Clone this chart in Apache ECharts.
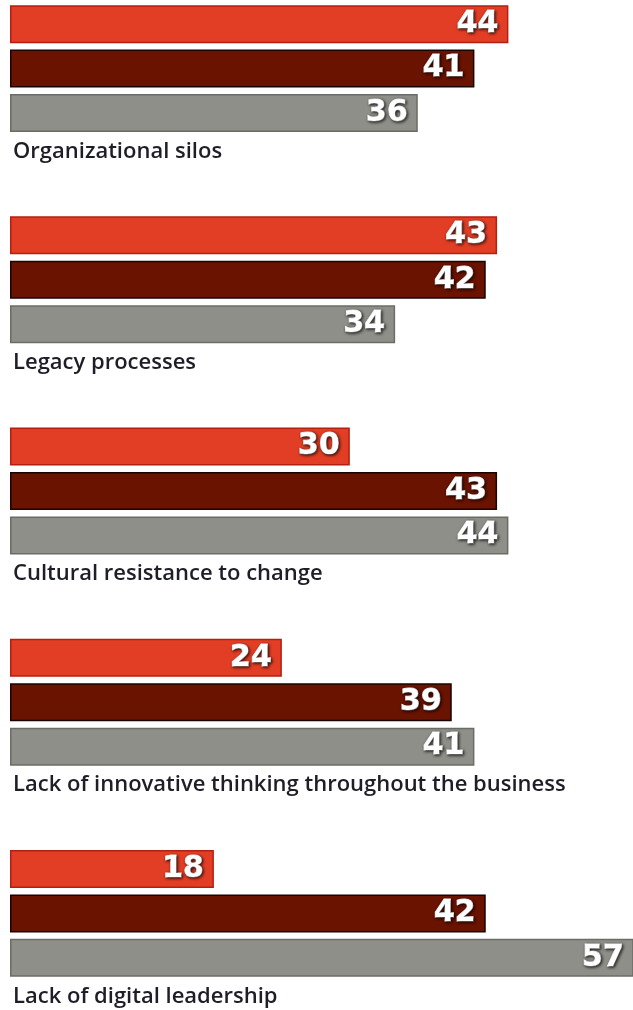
<!DOCTYPE html>
<html><head><meta charset="utf-8">
<script src="https://cdn.jsdelivr.net/npm/echarts@6/dist/echarts.min.js"></script>
<style>html,body{margin:0;padding:0;background:#fff}#c{width:633px;height:1010px}</style>
</head><body><div id="c"></div>
<script>
const categories = ["Organizational silos", "Legacy processes", "Cultural resistance to change", "Lack of innovative thinking throughout the business", "Lack of digital leadership"];
const seriesA = [44, 43, 30, 24, 18];
const seriesB = [41, 42, 43, 39, 42];
const seriesC = [36, 34, 44, 41, 57];

const chart = echarts.init(document.getElementById('c'), null, {renderer: 'canvas'});
const valueLabel = {
  show: true,
  position: 'insideRight',
  distance: 10,
  color: '#ffffff',
  fontFamily: 'DejaVu Sans',
  fontWeight: 'bold',
  fontSize: 30,
  textBorderColor: '#ffffff',
  textBorderWidth: 1,
  textShadowColor: 'rgba(0,0,0,0.8)',
  textShadowBlur: 3,
  textShadowOffsetX: 1,
  textShadowOffsetY: 1
};
function mk(name, data, fill, border) {
  return {
    name: name, type: 'bar', data: data,
    barWidth: 38, barGap: '17%',
    itemStyle: {color: fill, borderColor: border, borderWidth: 1.5},
    label: valueLabel,
    emphasis: {disabled: true},
    animation: false
  };
}
chart.setOption({
  animation: false,
  grid: {left: 10, right: 0, top: -37, bottom: -9, containLabel: false, outerBoundsMode: 'none'},
  xAxis: {type: 'value', min: 0, max: 55.0, show: false},
  yAxis: {
    type: 'category', data: categories, inverse: true,
    axisLine: {show: false}, axisTick: {show: false}, splitLine: {show: false},
    axisLabel: {
      inside: true, margin: 3, interval: 0,
      verticalAlign: 'top', padding: [72, 0, 0, 0],
      color: '#1e1e28', fontFamily: 'Open Sans', fontSize: 22, fontWeight: 600
    }
  },
  series: [
    mk('A', seriesA, '#E23E25', '#B3200F'),
    mk('B', seriesB, '#6A1300', '#1a0400'),
    mk('C', seriesC, '#8F8F8A', '#6C6C67')
  ]
});
</script></body></html>
